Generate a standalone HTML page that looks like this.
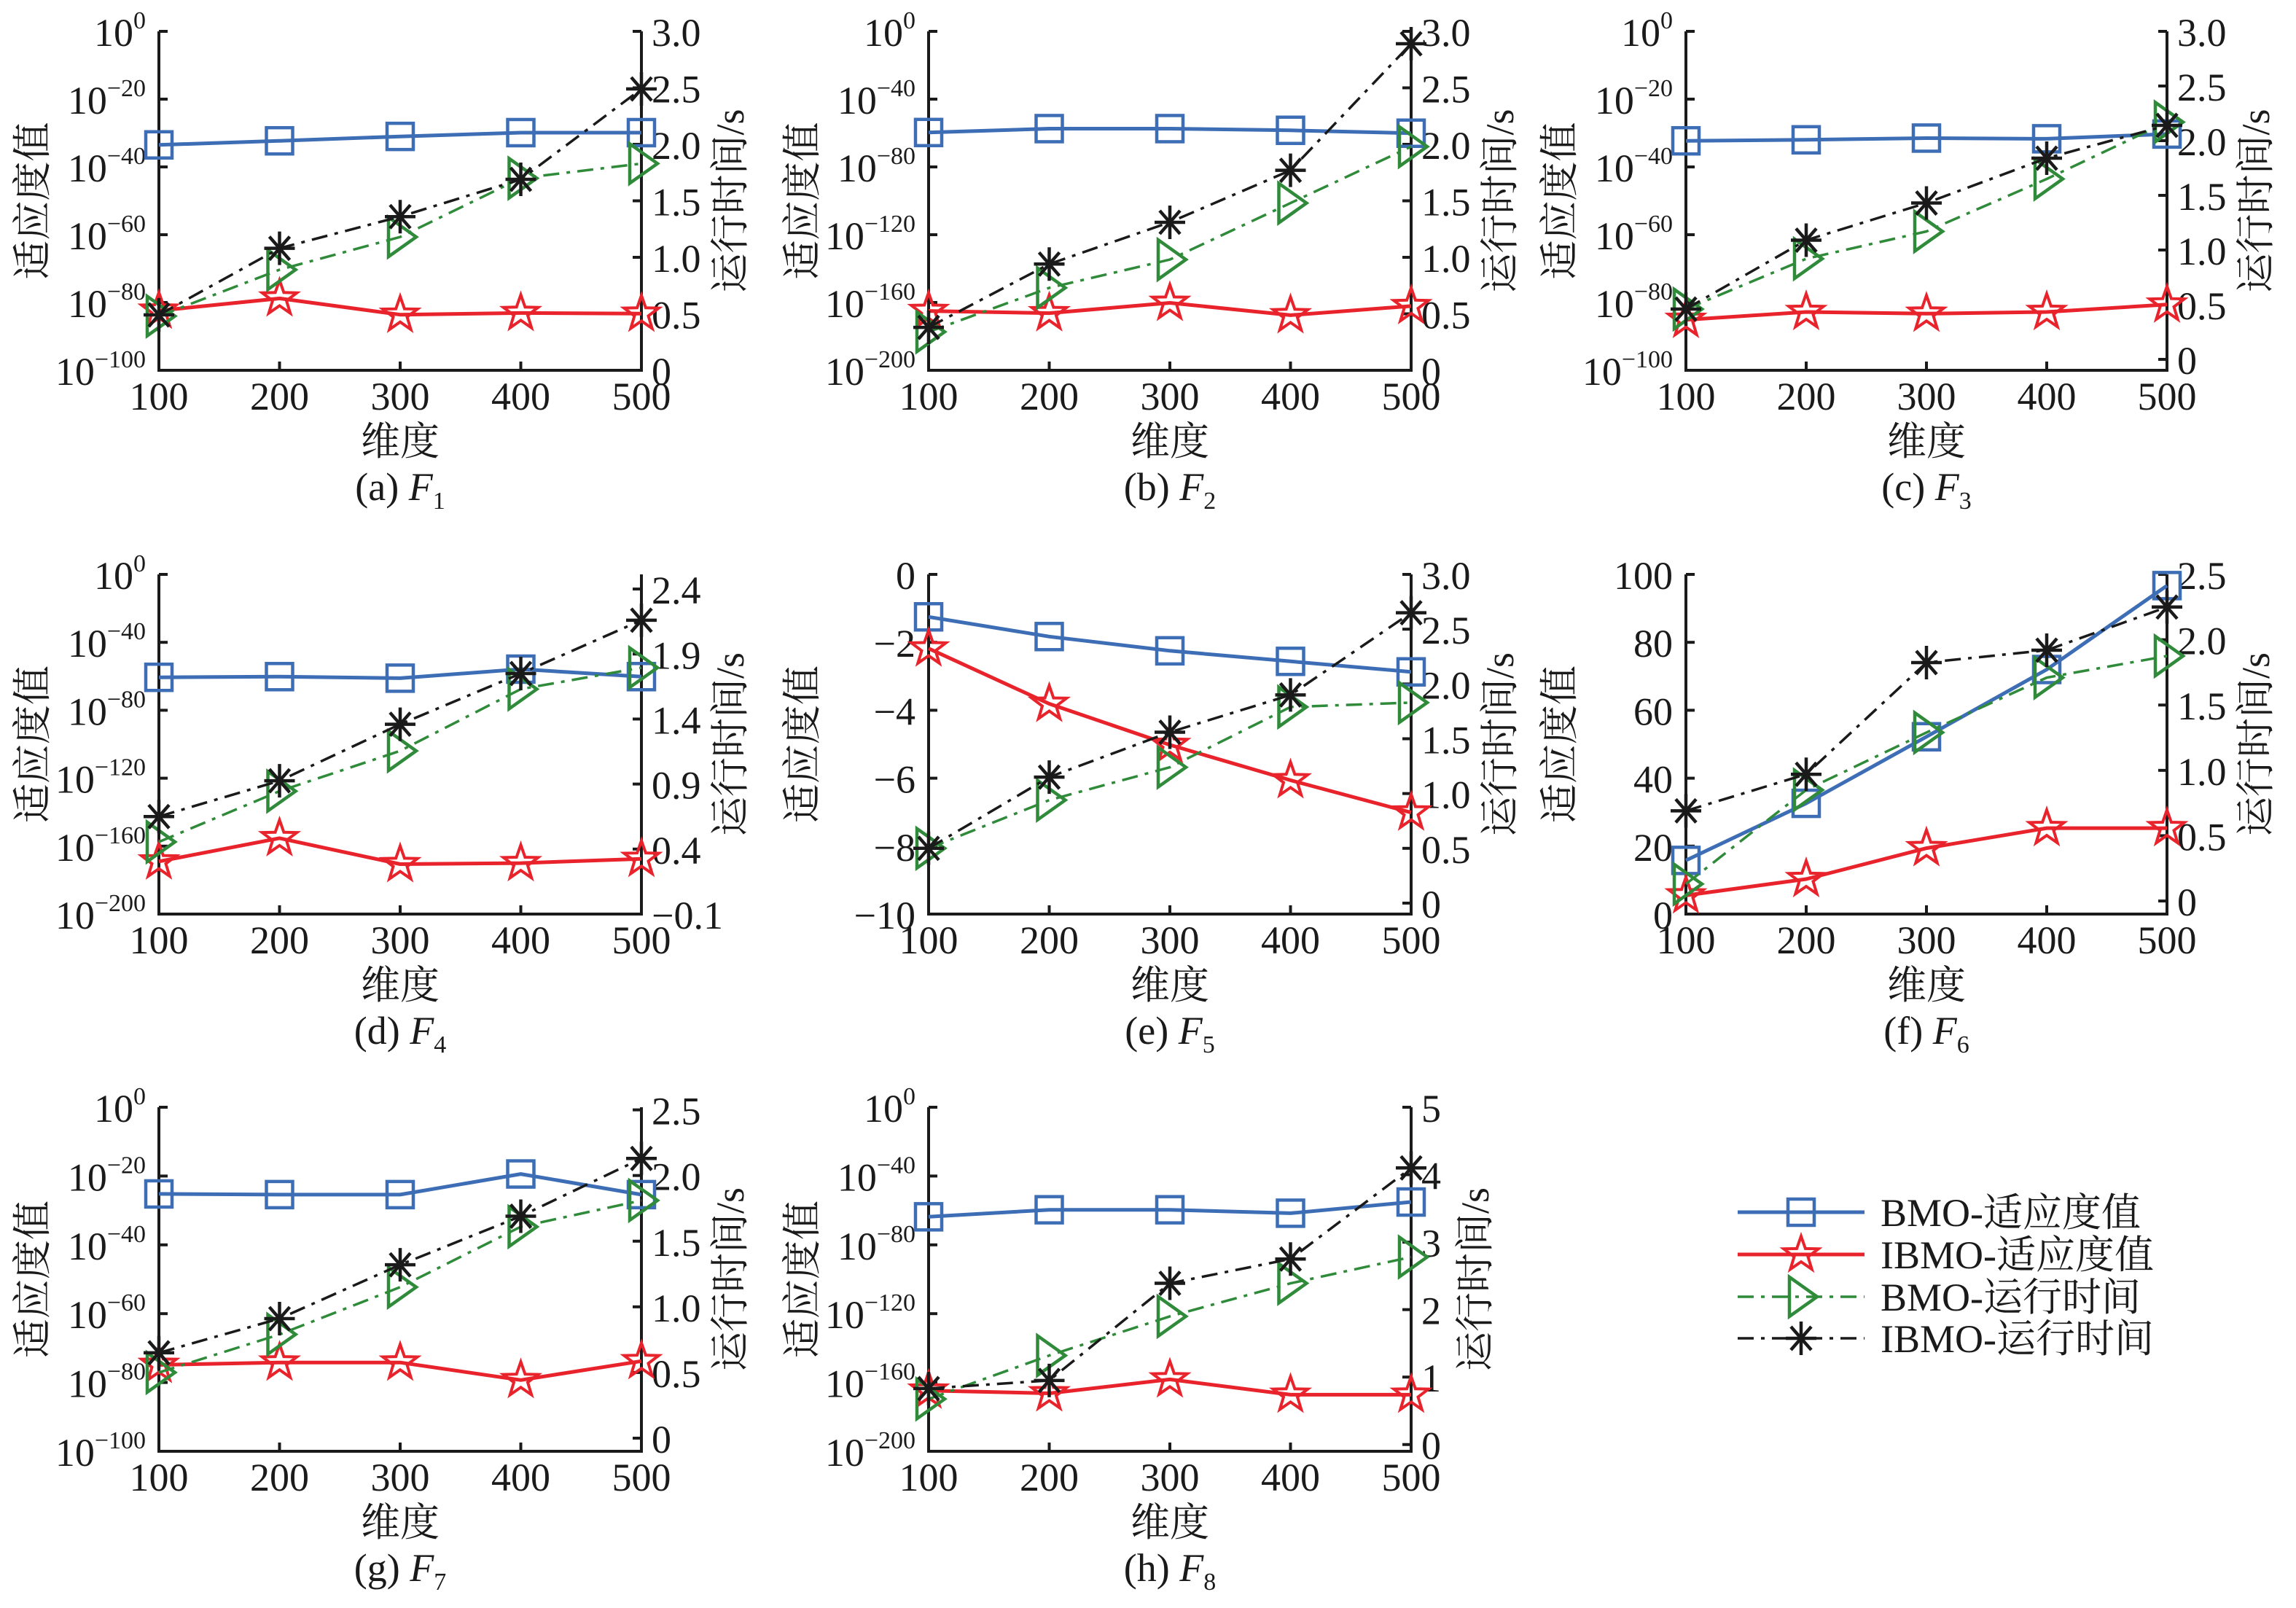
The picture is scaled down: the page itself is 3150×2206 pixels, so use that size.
<!DOCTYPE html>
<html><head><meta charset="utf-8"><title>BMO vs IBMO</title>
<style>
html,body{margin:0;padding:0;background:#fff;}
svg{display:block;}
text{font-family:"Liberation Serif","Noto Serif CJK SC","Noto Sans CJK SC",serif;fill:#1a1a1a;}
</style></head>
<body>
<svg id="fig" xmlns="http://www.w3.org/2000/svg" width="3150" height="2206" viewBox="0 0 3150 2206">
<rect x="0" y="0" width="3150" height="2206" fill="#fff"/>
<g id="legend"></g>
</svg>
<script>
// ---- data ----
const dims = [100, 200, 300, 400, 500];
const panelIds = ['a','b','c','d','e','f','g','h'];
const captionSub = ['1','2','3','4','5','6','7','8'];
// fitness values (log-scale panels hold raw values; e & f are linear)
const bmoFitness = [
  [3.2e-34, 5.0e-33, 1.0e-31, 1.3e-30, 1.3e-30],
  [2.0e-60, 4.0e-58, 4.0e-58, 4.0e-59, 7.9e-61],
  [5.0e-33, 1.0e-32, 3.2e-32, 2.0e-32, 5.0e-31],
  [2.5e-61, 6.3e-61, 7.9e-62, 1.6e-56, 6.3e-61],
  [-1.25, -1.83, -2.25, -2.56, -2.87],
  [15.8, 32.6, 52.2, 72.0, 96.7],
  [6.3e-26, 4.0e-26, 4.0e-26, 4.0e-20, 4.0e-26],
  [2.0e-64, 2.5e-60, 2.5e-60, 2.5e-62, 7.9e-56]
];
const ibmoFitness = [
  [4.0e-83, 1.6e-79, 2.5e-84, 7.9e-84, 5.0e-84],
  [1.0e-165, 5.0e-167, 6.3e-161, 3.2e-168, 7.9e-163],
  [7.9e-86, 1.6e-83, 5.0e-84, 1.6e-83, 2.5e-81],
  [1.0e-169, 5.0e-156, 2.5e-171, 1.0e-170, 3.2e-168],
  [-2.18, -3.81, -5.02, -6.06, -7.01],
  [5.5, 10.3, 19.4, 25.3, 25.3],
  [1.3e-75, 6.3e-75, 6.3e-75, 5.0e-80, 1.6e-74],
  [2.0e-165, 5.0e-167, 6.3e-159, 7.9e-168, 7.9e-168]
];
const bmoTime = [
  [0.48, 0.89, 1.18, 1.70, 1.83],
  [0.34, 0.73, 0.98, 1.48, 1.98],
  [0.46, 0.92, 1.17, 1.65, 2.17],
  [0.455, 0.845, 1.155, 1.63, 1.795],
  [0.50, 0.94, 1.24, 1.79, 1.83],
  [0.13, 0.85, 1.29, 1.71, 1.875],
  [0.50, 0.79, 1.15, 1.61, 1.81],
  [0.675, 1.32, 1.90, 2.39, 2.78]
];
const ibmoTime = [
  [0.49, 1.08, 1.36, 1.69, 2.49],
  [0.38, 0.94, 1.31, 1.77, 2.89],
  [0.46, 1.09, 1.43, 1.84, 2.14],
  [0.65, 0.925, 1.36, 1.75, 2.16],
  [0.50, 1.15, 1.56, 1.90, 2.65],
  [0.69, 0.97, 1.825, 1.92, 2.25],
  [0.65, 0.91, 1.32, 1.69, 2.13],
  [0.83, 0.95, 2.39, 2.75, 4.10]
];
// left axis: log flag, exponent/linear range, tick values
const leftIsLog = [true, true, true, true, false, false, true, true];
const leftMin = [-100, -200, -100, -200, -10, 0, -100, -200];
const leftMax = [0, 0, 0, 0, 0, 100, 0, 0];
const leftTicks = [
  [0,-20,-40,-60,-80,-100],
  [0,-40,-80,-120,-160,-200],
  [0,-20,-40,-60,-80,-100],
  [0,-40,-80,-120,-160,-200],
  [0,-2,-4,-6,-8,-10],
  [0,20,40,60,80,100],
  [0,-20,-40,-60,-80,-100],
  [0,-40,-80,-120,-160,-200]
];
// right axis ranges and tick labels
const rightMin = [0, 0, -0.1, -0.1, -0.1, -0.1, -0.1, -0.1];
const rightMax = [3.0, 3.0, 3.0, 2.5125, 3.0, 2.5, 2.52, 5.0];
const rightTicks = [
  ['0','0.5','1.0','1.5','2.0','2.5','3.0'],
  ['0','0.5','1.0','1.5','2.0','2.5','3.0'],
  ['0','0.5','1.0','1.5','2.0','2.5','3.0'],
  ['\u22120.1','0.4','0.9','1.4','1.9','2.4'],
  ['0','0.5','1.0','1.5','2.0','2.5','3.0'],
  ['0','0.5','1.0','1.5','2.0','2.5'],
  ['0','0.5','1.0','1.5','2.0','2.5'],
  ['0','1','2','3','4','5']
];
const seriesNames = ['BMO-适应度值','IBMO-适应度值','BMO-运行时间','IBMO-运行时间'];

// ---- layout (not data) ----
const colL = [218, 1274, 2313], colR = [880, 1936, 2973];
const rowT = [43, 788, 1519], rowB = [508, 1254, 1991];
const rightLabelOffset = [140,140,140,140,140,140,140,106];
const BLUE = '#3d6eb5', RED = '#e8232b', GREEN = '#2f8a3a', BLACK = '#1a1a1a';
const NS = 'http://www.w3.org/2000/svg';
const svg = document.getElementById('fig');

function mk(tag, attrs, parent) {
  const e = document.createElementNS(NS, tag);
  for (const k in attrs) e.setAttribute(k, attrs[k]);
  (parent || svg).appendChild(e);
  return e;
}
function fmtNeg(n) { return n < 0 ? '\u2212' + Math.abs(n) : String(n); }

function drawMarker(g, type, x, y) {
  let m;
  if (type === 'square') {
    m = mk('rect', {x: x-18, y: y-18, width: 36, height: 36, fill: 'none', stroke: BLUE, 'stroke-width': 4.5}, g);
  } else if (type === 'star') {
    let pts = [];
    for (let i = 0; i < 10; i++) {
      const r = i % 2 === 0 ? 25 : 10;
      const a = -Math.PI/2 + i*Math.PI/5;
      pts.push((x + r*Math.cos(a)).toFixed(1) + ',' + (y + r*Math.sin(a)).toFixed(1));
    }
    m = mk('polygon', {points: pts.join(' '), fill: 'none', stroke: RED, 'stroke-width': 4}, g);
  } else if (type === 'tri') {
    m = mk('polygon', {points: `${x-16},${y-27} ${x+22},${y} ${x-16},${y+27}`, fill: 'none', stroke: GREEN, 'stroke-width': 4.5}, g);
  } else {
    m = mk('g', {stroke: BLACK, 'stroke-width': 4.5}, g);
    mk('line', {x1: x-21, y1: y, x2: x+21, y2: y}, m);
    mk('line', {x1: x, y1: y-23, x2: x, y2: y+23}, m);
    mk('line', {x1: x-14, y1: y-16, x2: x+14, y2: y+16}, m);
    mk('line', {x1: x-14, y1: y+16, x2: x+14, y2: y-16}, m);
  }
  
  
}

panelIds.forEach((pid, p) => {
  const c = p % 3, r = Math.floor(p / 3);
  const L = colL[c], R = colR[c], T = rowT[r], B = rowB[r];
  const g = mk('g', {});
  
  

  const xs = v => L + (v - dims[0]) / (dims[dims.length-1] - dims[0]) * (R - L);
  const yl = v => {
    const t = leftIsLog[p] ? Math.log10(v) : v;
    return B - (t - leftMin[p]) / (leftMax[p] - leftMin[p]) * (B - T);
  };
  const yr = v => B - (v - rightMin[p]) / (rightMax[p] - rightMin[p]) * (B - T);

  const ax = mk('path', {d: `M${L},${T} L${L},${B} L${R},${B} L${R},${T}`, fill: 'none', stroke: BLACK, 'stroke-width': 4}, g);
  
  

  dims.forEach(d => {
    const x = xs(d);
    mk('line', {x1: x, y1: B, x2: x, y2: B-12, stroke: BLACK, 'stroke-width': 4}, g);
    const t = mk('text', {x: x, y: B + 54, 'text-anchor': 'middle', 'font-size': 54}, g);
    t.textContent = d;
    
    
  });

  leftTicks[p].forEach(v => {
    const y = leftIsLog[p] ? B - (v - leftMin[p]) / (leftMax[p] - leftMin[p]) * (B - T) : yl(v);
    mk('line', {x1: L, y1: y, x2: L+12, y2: y, stroke: BLACK, 'stroke-width': 4}, g);
    const t = mk('text', {x: L - 18, y: y + 20, 'text-anchor': 'end', 'font-size': 54}, g);
    if (leftIsLog[p]) {
      t.appendChild(document.createTextNode('10'));
      const s = mk('tspan', {dy: -24, 'font-size': 34}, t);
      s.textContent = fmtNeg(v);
    } else {
      t.textContent = fmtNeg(v);
    }
    
    
  });

  rightTicks[p].forEach(lbl => {
    const v = parseFloat(lbl.replace('\u2212', '-'));
    const y = yr(v);
    mk('line', {x1: R, y1: y, x2: R-12, y2: y, stroke: BLACK, 'stroke-width': 4}, g);
    const t = mk('text', {x: R + 14, y: y + 20, 'text-anchor': 'start', 'font-size': 54}, g);
    t.textContent = lbl;
    
    
  });

  const cy = (T + B) / 2;
  const yt = mk('text', {x: 0, y: 0, 'text-anchor': 'middle', 'font-size': 54, transform: `translate(${L-155},${cy}) rotate(-90)`}, g);
  yt.textContent = '适应度值';
  
  
  const rt = mk('text', {x: 0, y: 0, 'text-anchor': 'middle', 'font-size': 54, transform: `translate(${R+rightLabelOffset[p]},${cy}) rotate(-90)`}, g);
  rt.textContent = '运行时间/s';
  
  
  const xt = mk('text', {x: (L+R)/2, y: B + 116, 'text-anchor': 'middle', 'font-size': 54}, g);
  xt.textContent = '维度';
  
  
  const cap = mk('text', {x: (L+R)/2, y: B + 178, 'text-anchor': 'middle', 'font-size': 54}, g);
  cap.appendChild(document.createTextNode('(' + pid + ') '));
  const fi = mk('tspan', {'font-style': 'italic'}, cap); fi.textContent = 'F';
  const sb = mk('tspan', {dy: 12, 'font-size': 34}, cap); sb.textContent = captionSub[p];
  
  

  const series = [
    {vals: bmoFitness[p], y: yl, color: BLUE, w: 5, dash: null, mk: 'square', name: 'bmo-fitness-line'},
    {vals: ibmoFitness[p], y: yl, color: RED, w: 5, dash: null, mk: 'star', name: 'ibmo-fitness-line'},
    {vals: bmoTime[p], y: yr, color: GREEN, w: 3.5, dash: '22 10 5 10', mk: 'tri', name: 'bmo-time-line'},
    {vals: ibmoTime[p], y: yr, color: BLACK, w: 3.5, dash: '22 10 5 10', mk: 'star6', name: 'ibmo-time-line'}
  ];
  series.forEach(s => {
    const sg = mk('g', {}, g);
    
    
    const pts = s.vals.map((v, i) => xs(dims[i]).toFixed(1) + ',' + s.y(v).toFixed(1)).join(' ');
    const attrs = {points: pts, fill: 'none', stroke: s.color, 'stroke-width': s.w, 'stroke-linejoin': 'round'};
    if (s.dash) attrs['stroke-dasharray'] = s.dash;
    mk('polyline', attrs, sg);
    s.vals.forEach((v, i) => drawMarker(sg, s.mk, xs(dims[i]), s.y(v)));
  });
});

const lg = document.getElementById('legend');
const lgColors = [BLUE, RED, GREEN, BLACK];
const lgMarks = ['square', 'star', 'tri', 'star6'];
const lgY = [1663, 1721, 1779, 1836];
seriesNames.forEach((nm, i) => {
  const eg = mk('g', {}, lg);
  
  
  const la = {x1: 2384, y1: lgY[i], x2: 2558, y2: lgY[i], stroke: lgColors[i], 'stroke-width': i < 2 ? 5 : 3.5};
  if (i >= 2) la['stroke-dasharray'] = '22 10 5 10';
  mk('line', la, eg);
  drawMarker(eg, lgMarks[i], 2471, lgY[i]);
  const t = mk('text', {x: 2580, y: lgY[i] + 19, 'font-size': 54}, eg);
  t.textContent = nm;
  
  
});
</script>
</body></html>
